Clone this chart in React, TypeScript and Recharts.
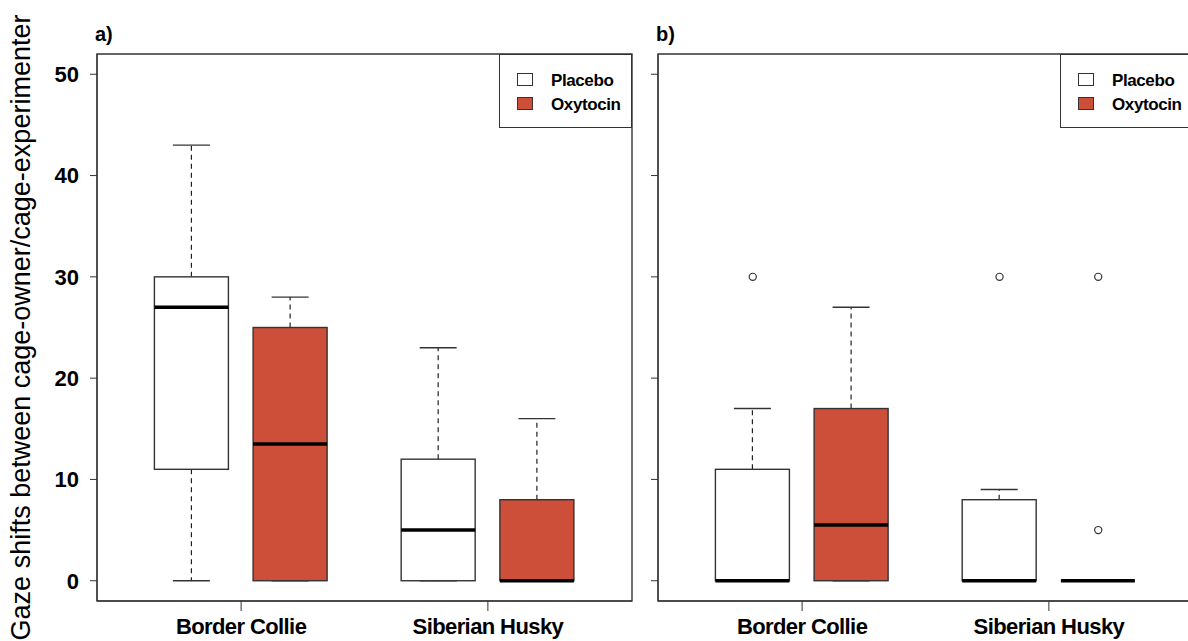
import React from "react";
import { ComposedChart, Bar, Scatter, XAxis, YAxis, ReferenceArea, Legend } from "recharts";

const dogs = ["Border Collie", "Siberian Husky"];
const treatments = ["Placebo", "Oxytocin"];
const treatmentColors = ["#FFFFFF", "#CD4F39"];
const yTicks = [0, 10, 20, 30, 40, 50];
const yTitle = "Gaze shifts between cage-owner/cage-experimenter";

// box order: BC placebo, BC oxytocin, SH placebo, SH oxytocin
const aLower = [0, 0, 0, 0];
const aQ1 = [11, 0, 0, 0];
const aMedian = [27, 13.5, 5, 0];
const aQ3 = [30, 25, 12, 8];
const aUpper = [43, 28, 23, 16];
const aOutliers: number[][] = [[], [], [], []];

const bLower = [0, 0, 0, 0];
const bQ1 = [0, 0, 0, 0];
const bMedian = [0, 5.5, 0, 0];
const bQ3 = [11, 17, 8, 0];
const bUpper = [17, 27, 9, 0];
const bOutliers: number[][] = [[30], [], [30], [5, 30]];

const FONT = "'Liberation Sans', Arial, sans-serif";
const LINE = "#333";
const X_DOMAIN: [number, number] = [0.04, 5.46];
const Y_DOMAIN: [number, number] = [-2, 52];

// R-style "at" positions: pairs side by side, wider gap between dogs
const slotOf = (i: number) => 1 + Math.floor(i / 2) * 2.5 + (i % 2);
const dogCenters = dogs.map((_, d) => (slotOf(2 * d) + slotOf(2 * d + 1)) / 2);

function buildRows(lower: number[], q1: number[], med: number[], q3: number[], upper: number[]) {
  return lower.map((lo, i) => ({
    x: slotOf(i),
    dog: dogs[Math.floor(i / 2)],
    treatment: treatments[i % 2],
    range: [lo, upper[i]],
    lower: lo,
    q1: q1[i],
    median: med[i],
    q3: q3[i],
    upper: upper[i],
    fill: treatmentColors[i % 2],
  }));
}

function buildOutliers(outliers: number[][]) {
  return outliers.flatMap((vals, i) => vals.map((v) => ({ x: slotOf(i), value: v })));
}

const BoxShape = (props: any) => {
  const { x, y, width, height } = props;
  const p = props.payload ?? props;
  const span = p.upper - p.lower;
  const py = (v: number) => (span > 0 ? y + (height * (p.upper - v)) / span : y);
  const cx = x + width / 2;
  const cap = width / 4;
  return (
    <g>
      <line x1={cx} x2={cx} y1={py(p.q3)} y2={py(p.upper)} stroke="#222" strokeWidth={1.2} strokeDasharray="5 4" />
      <line x1={cx} x2={cx} y1={py(p.q1)} y2={py(p.lower)} stroke="#222" strokeWidth={1.2} strokeDasharray="5 4" />
      <line x1={cx - cap} x2={cx + cap} y1={py(p.upper)} y2={py(p.upper)} stroke={LINE} strokeWidth={1.4} />
      <line x1={cx - cap} x2={cx + cap} y1={py(p.lower)} y2={py(p.lower)} stroke={LINE} strokeWidth={1.4} />
      <rect x={x} y={py(p.q3)} width={width} height={Math.max(0, py(p.q1) - py(p.q3))} fill={p.fill} stroke={LINE} strokeWidth={1.4} />
      <line x1={x} x2={x + width} y1={py(p.median)} y2={py(p.median)} stroke="#000" strokeWidth={3.5} />
    </g>
  );
};

const OutlierShape = (props: any) => (
  <circle cx={props.cx} cy={props.cy} r={3.6} fill="#fff" stroke={LINE} strokeWidth={1.2} />
);

const LegendBox = () => (
  <div style={{ position: "relative", width: 133, height: 74, boxSizing: "border-box", border: `1.4px solid ${LINE}`, background: "#fff", fontFamily: FONT }}>
    {treatments.map((t, i) => (
      <React.Fragment key={t}>
        <div style={{ position: "absolute", left: 17, top: 18 + i * 24, width: 16, height: 13, boxSizing: "border-box", border: `1.2px solid ${LINE}`, background: treatmentColors[i] }} />
        <div style={{ position: "absolute", left: 51, top: 17 + i * 24, fontSize: 17, lineHeight: "17px", fontWeight: 700, letterSpacing: -0.4, color: "#000", whiteSpace: "nowrap" }}>{t}</div>
      </React.Fragment>
    ))}
  </div>
);

const YTitle = (props: any) => {
  const vb = props.viewBox || {};
  const tx = (vb.x ?? 0) + 21;
  const ty = (vb.y ?? 0) + (vb.height ?? 0) / 2;
  return (
    <text x={tx} y={ty} transform={`rotate(-90, ${tx}, ${ty})`} textAnchor="middle" dominantBaseline="central" fontSize={27} fontFamily={FONT} fill="#000">
      {yTitle}
    </text>
  );
};

function Panel({ tag, rows, outliers, showYLabels }: { tag: string; rows: any[]; outliers: any[]; showYLabels: boolean }) {
  return (
    <div style={{ position: "relative", width: 640, height: 641 }}>
      <ComposedChart width={640} height={641} data={rows} margin={{ top: 54, right: 8, bottom: 0, left: 0 }}>
        <XAxis
          type="number"
          dataKey="x"
          domain={X_DOMAIN}
          ticks={dogCenters}
          interval={0}
          tickFormatter={(v: number) => dogs[dogCenters.indexOf(v)] ?? ""}
          height={40}
          tickSize={10}
          tickMargin={7}
          stroke={LINE}
          tick={{ fill: "#000", fontSize: 22, fontWeight: 700, fontFamily: FONT, letterSpacing: -0.6 }}
          allowDataOverflow
        />
        <YAxis
          type="number"
          domain={Y_DOMAIN}
          ticks={yTicks}
          interval={0}
          width={97}
          tickSize={7}
          tickMargin={11}
          stroke={LINE}
          tickFormatter={(v: number) => (showYLabels ? String(v) : "")}
          tick={{ fill: "#000", fontSize: 22, fontWeight: 700, fontFamily: FONT }}
          label={showYLabels ? (p: any) => <YTitle {...p} /> : undefined}
          allowDataOverflow
        />
        <ReferenceArea x1={X_DOMAIN[0]} x2={X_DOMAIN[1]} y1={Y_DOMAIN[0]} y2={Y_DOMAIN[1]} fill="none" stroke={LINE} strokeWidth={1.4} ifOverflow="visible" />
        <Bar dataKey="range" barSize={74} shape={BoxShape} isAnimationActive={false} />
        <Scatter data={outliers} dataKey="value" shape={OutlierShape} isAnimationActive={false} />
        <Legend
          layout="horizontal"
          verticalAlign="middle"
          align="center"
          content={() => <LegendBox />}
          wrapperStyle={{ position: "absolute", left: 499, top: 54, width: 133, height: 74 }}
        />
      </ComposedChart>
      <div style={{ position: "absolute", left: 95, top: 24, fontSize: 20, lineHeight: "20px", fontWeight: 700, fontFamily: FONT, color: "#000" }}>{tag}</div>
    </div>
  );
}

export default function App() {
  const rowsA = buildRows(aLower, aQ1, aMedian, aQ3, aUpper);
  const rowsB = buildRows(bLower, bQ1, bMedian, bQ3, bUpper);
  return (
    <div style={{ position: "relative", width: 1188, height: 641, overflow: "hidden", background: "#fff" }}>
      <style>{"body{margin:0}"}</style>
      <div style={{ position: "absolute", left: 0, top: 0 }}>
        <Panel tag="a)" rows={rowsA} outliers={buildOutliers(aOutliers)} showYLabels />
      </div>
      <div style={{ position: "absolute", left: 561, top: 0 }}>
        <Panel tag="b)" rows={rowsB} outliers={buildOutliers(bOutliers)} showYLabels={false} />
      </div>
    </div>
  );
}
